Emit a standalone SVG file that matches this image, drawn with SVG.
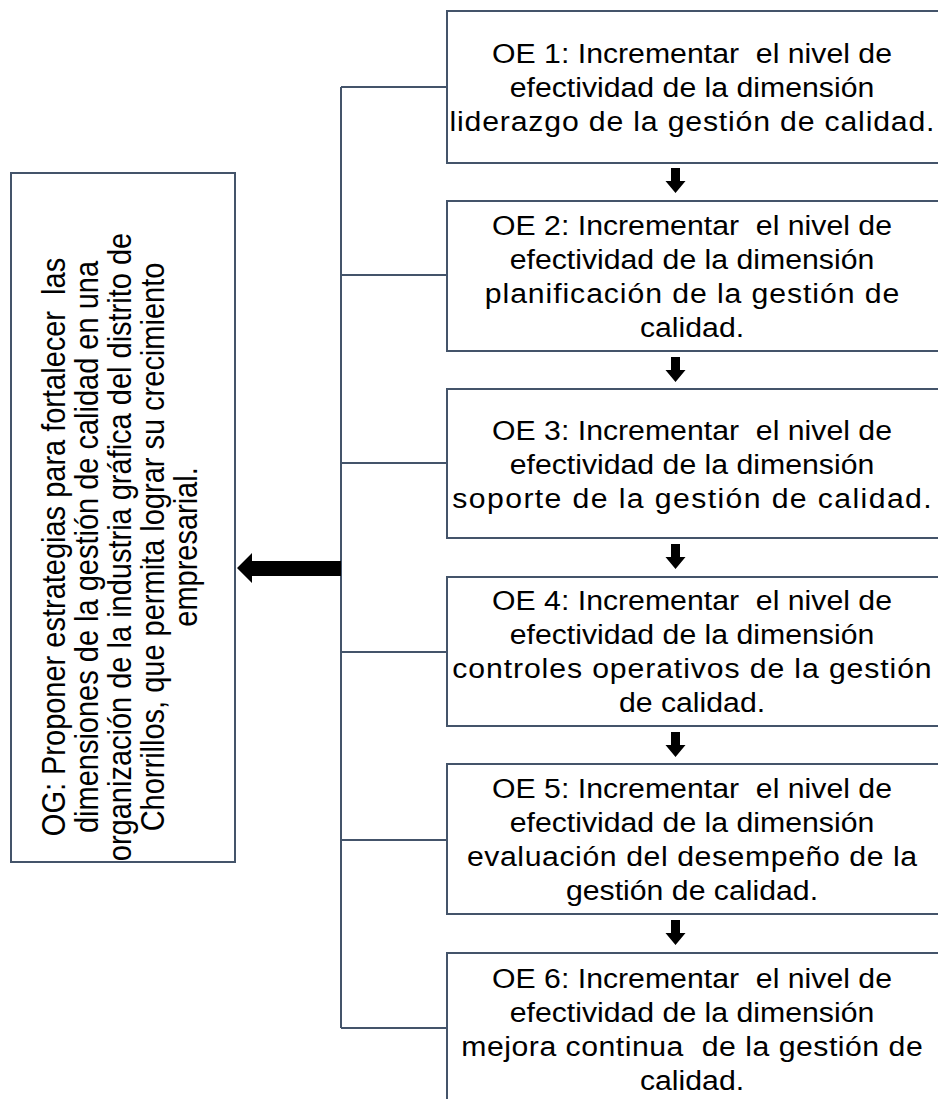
<svg xmlns="http://www.w3.org/2000/svg" width="938" height="1099" viewBox="0 0 938 1099">
<style>
.box{fill:#fff;stroke:#44546A;stroke-width:2}
.conn{fill:none;stroke:#44546A;stroke-width:2}
.arr{fill:#000;stroke:none}
.t{font-family:"Liberation Sans",Arial,sans-serif;font-size:27px;fill:#000;text-anchor:middle;white-space:pre}
.tl{font-family:"Liberation Sans",Arial,sans-serif;font-size:29px;fill:#000;text-anchor:middle;white-space:pre}
</style>
<rect width="938" height="1099" fill="#fff"/>
<g id="connectors">
<path class="conn" d="M341,87 V1028 M341,87 H447 M341,275 H447 M341,463 H447 M341,652 H447 M341,840 H447 M341,1028 H447"/>
<polygon class="arr" points="237,568 252,553 252,561 341,561 341,576 252,576 252,583"/>
<polygon class="arr" points="671,168 680,168 680,181 685.5,181 675.5,193 665.5,181 671,181"/>
<polygon class="arr" points="671,357 680,357 680,370 685.5,370 675.5,382 665.5,370 671,370"/>
<polygon class="arr" points="671,544 680,544 680,557 685.5,557 675.5,569 665.5,557 671,557"/>
<polygon class="arr" points="671,732 680,732 680,745 685.5,745 675.5,757 665.5,745 671,745"/>
<polygon class="arr" points="671,920 680,920 680,933 685.5,933 675.5,945 665.5,933 671,933"/>
</g>
<g id="og">
<rect class="box" x="11" y="173" width="224" height="689"/>
<text class="tl" transform="translate(65,547) scale(1.14,1) rotate(-90)" x="0" y="0">OG: Proponer estrategias para fortalecer  las</text>
<text class="tl" transform="translate(98,547) scale(1.14,1) rotate(-90)" x="0" y="0">dimensiones de la gestión de calidad en una</text>
<text class="tl" transform="translate(131,547) scale(1.14,1) rotate(-90)" x="0" y="0">organización de la industria gráfica del distrito de</text>
<text class="tl" transform="translate(164,547) scale(1.14,1) rotate(-90)" x="0" y="0">Chorrillos, que permita lograr su crecimiento</text>
<text class="tl" transform="translate(197,547) scale(1.14,1) rotate(-90)" x="0" y="0">empresarial.</text>
</g>
<g id="oe1">
<rect class="box" x="447" y="11" width="492" height="152"/>
<g transform="translate(692,0) scale(1.12,1)">
<text class="t" x="0" y="63">OE 1: Incrementar  el nivel de</text>
<text class="t" x="0" y="97">efectividad de la dimensión</text>
<text class="t" x="0" y="131" textLength="433" lengthAdjust="spacing">liderazgo de la gestión de calidad.</text>
</g>
</g>
<g id="oe2">
<rect class="box" x="447" y="201" width="492" height="150"/>
<g transform="translate(692,0) scale(1.12,1)">
<text class="t" x="0" y="235">OE 2: Incrementar  el nivel de</text>
<text class="t" x="0" y="269">efectividad de la dimensión</text>
<text class="t" x="0" y="303" textLength="370" lengthAdjust="spacing">planificación de la gestión de</text>
<text class="t" x="0" y="337">calidad.</text>
</g>
</g>
<g id="oe3">
<rect class="box" x="447" y="389" width="492" height="149"/>
<g transform="translate(692,0) scale(1.12,1)">
<text class="t" x="0" y="440">OE 3: Incrementar  el nivel de</text>
<text class="t" x="0" y="474">efectividad de la dimensión</text>
<text class="t" x="0" y="508" textLength="428" lengthAdjust="spacing">soporte de la gestión de calidad.</text>
</g>
</g>
<g id="oe4">
<rect class="box" x="447" y="577" width="492" height="149"/>
<g transform="translate(692,0) scale(1.12,1)">
<text class="t" x="0" y="610">OE 4: Incrementar  el nivel de</text>
<text class="t" x="0" y="644">efectividad de la dimensión</text>
<text class="t" x="0" y="678" textLength="428" lengthAdjust="spacing">controles operativos de la gestión</text>
<text class="t" x="0" y="712">de calidad.</text>
</g>
</g>
<g id="oe5">
<rect class="box" x="447" y="764" width="492" height="150"/>
<g transform="translate(692,0) scale(1.12,1)">
<text class="t" x="0" y="798">OE 5: Incrementar  el nivel de</text>
<text class="t" x="0" y="832">efectividad de la dimensión</text>
<text class="t" x="0" y="866" textLength="402" lengthAdjust="spacing">evaluación del desempeño de la</text>
<text class="t" x="0" y="900">gestión de calidad.</text>
</g>
</g>
<g id="oe6">
<rect class="box" x="447" y="953" width="492" height="152"/>
<g transform="translate(692,0) scale(1.12,1)">
<text class="t" x="0" y="988">OE 6: Incrementar  el nivel de</text>
<text class="t" x="0" y="1022">efectividad de la dimensión</text>
<text class="t" x="0" y="1056" textLength="412" lengthAdjust="spacing">mejora continua  de la gestión de</text>
<text class="t" x="0" y="1090">calidad.</text>
</g>
</g>
</svg>
